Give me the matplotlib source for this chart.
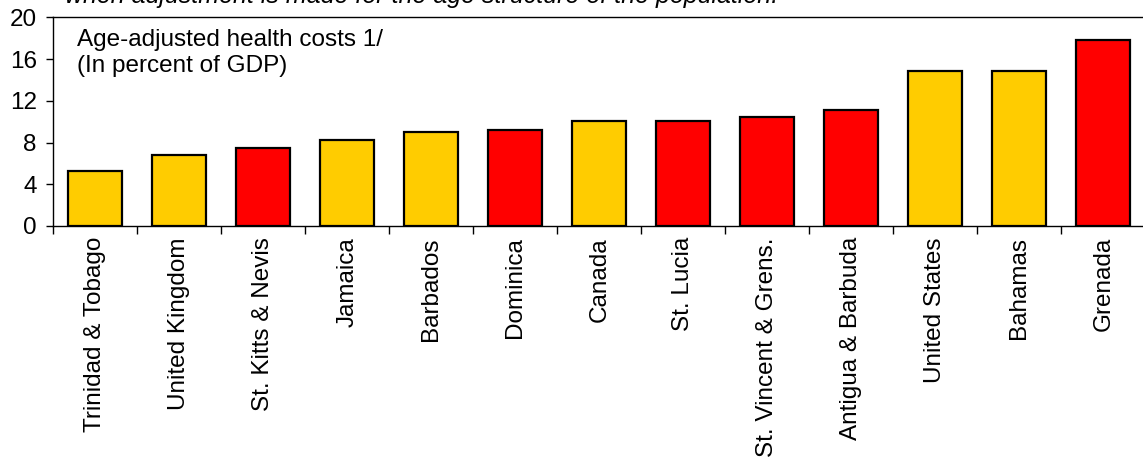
import matplotlib
matplotlib.use("Agg")
import matplotlib.pyplot as plt
import numpy as np

plt.rcParams['font.family'] = ['Liberation Sans', 'DejaVu Sans']

countries = ["Trinidad & Tobago", "United Kingdom", "St. Kitts & Nevis", "Jamaica",
             "Barbados", "Dominica", "Canada", "St. Lucia", "St. Vincent & Grens.",
             "Antigua & Barbuda", "United States", "Bahamas", "Grenada"]
health_costs = [5.3, 6.8, 7.5, 8.2, 9.0, 9.2, 10.1, 10.1, 10.4, 11.1, 14.9, 14.9, 17.8]
eccu_member = [False, False, True, False, False, True, False, True, True, True,
               False, False, True]
y_ticks = [0, 4, 8, 12, 16, 20]

W, H = 1143, 459
fig = plt.figure(figsize=(W / 100, H / 100), dpi=100)
left, right, bottom, top = 53.3, 1145.3, 226, 17.3
ax = fig.add_axes([left / W, 1 - bottom / H, (right - left) / W, (bottom - top) / H])

colors = ["#FF0000" if m else "#FFCC00" for m in eccu_member]
x = np.arange(len(countries))
ax.bar(x, health_costs, width=0.64, color=colors, edgecolor="black", linewidth=1.6, zorder=3)

ax.set_xlim(-0.5, len(countries) - 0.5)
ax.set_ylim(0, 20)
ax.set_yticks(y_ticks)
ax.tick_params(axis="y", direction="out", length=5, width=1, pad=7, labelsize=17.5)

ax.set_xticks(x)
ax.set_xticklabels(countries, rotation=90, fontsize=17.5)
ax.tick_params(axis="x", which="major", length=0, pad=8)
ax.set_xticks(np.arange(len(countries)) - 0.5, minor=True)
ax.tick_params(axis="x", which="minor", direction="out", length=6, width=1)

for side in ["left", "bottom", "top"]:
    ax.spines[side].set_linewidth(1)
    ax.spines[side].set_color("black")
ax.spines["right"].set_visible(False)

ax.text((77 - left) / (right - left), 1 - (29 - top) / (bottom - top),
        "Age-adjusted health costs 1/\n(In percent of GDP)",
        transform=ax.transAxes, ha="left", va="top", fontsize=17.5, linespacing=1.22)

fig.text(65 / W, 1 - 3.5 / H, "when adjustment is made for the age structure of the population.",
         ha="left", va="baseline", fontsize=18, style="italic")

fig.savefig("out.png", dpi=100)
